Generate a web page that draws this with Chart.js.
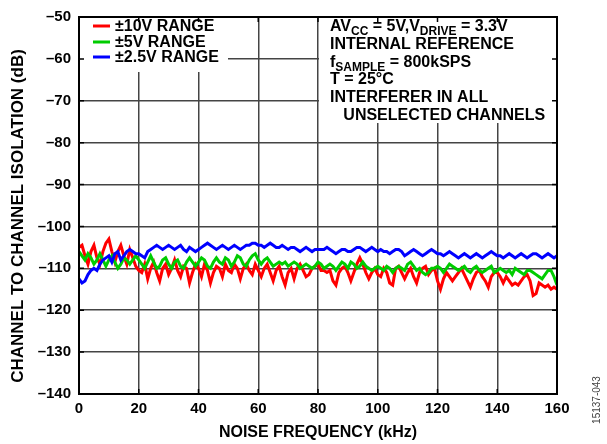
<!DOCTYPE html>
<html>
<head>
<meta charset="UTF-8">
<title>Channel to Channel Isolation</title>
<script src="https://cdn.jsdelivr.net/npm/chart.js@4"></script>
<style>
  html, body { margin: 0; padding: 0; background: #fff; }
  #wrap { width: 607px; height: 444px; position: relative; }
</style>
</head>
<body>
<div id="wrap"><canvas id="chart"></canvas></div>
<script>
// noise frequency in kHz, one sample per kHz from 0 to 160
const freqStart = 0;
const freqStep = 1;

const xTicks = [0, 20, 40, 60, 80, 100, 120, 140, 160];
const yTicks = [-50, -60, -70, -80, -90, -100, -110, -120, -130, -140];

const seriesNames = ['\u00b110V RANGE', '\u00b15V RANGE', '\u00b12.5V RANGE'];

// ±10V range (dB)
const range10V = [
  -105, -104.5, -107, -109, -106, -104.5, -107.5, -109, -106, -104,
  -103, -106, -108.5, -106, -104.5, -107, -109, -105.5, -107.5, -109.5,
  -110.5, -111, -109, -112.5, -110, -108.5, -111, -113, -110, -109,
  -111.5, -110, -108, -110.5, -112, -109.5, -110, -113.5, -111, -109,
  -110, -112, -109, -110.5, -113.5, -111, -109.5, -110, -112, -109,
  -110.5, -111, -109, -110, -112.5, -110, -109, -110.5, -111.5, -109,
  -110.5, -112, -110, -109, -111, -113, -110.5, -109.5, -112, -114,
  -111, -110, -112.5, -110, -109, -110.5, -112, -111.5, -110, -109.5,
  -109, -110.5, -110.5, -111, -110.5, -113, -114, -111, -110, -109.5,
  -111, -113, -111, -109, -107.5, -109, -111, -112.5, -111, -110,
  -111.5, -112, -110, -111, -113.5, -114, -110, -109.5, -111, -112.5,
  -111, -110, -112, -113.5, -111, -110, -109.5, -111.5, -110.5, -110,
  -113, -115, -112.5, -111, -112, -113, -112, -111, -110, -111.5,
  -113, -114.5, -112.5, -111, -110.5, -112, -113, -114.5, -112, -111,
  -111, -112, -113.5, -112, -113, -114, -113.5, -114, -113, -112,
  -111.5, -113, -116.5, -116, -113.5, -114, -114.5, -114, -115, -114.5,
  -115
];

// ±5V range (dB)
const range5V = [
  -106, -107, -108, -106.5, -107.5, -109, -108, -106.5, -108, -109.5,
  -108, -107, -108.5, -110, -109, -107.5, -108, -109, -108, -107,
  -108, -109, -110, -108.5, -107, -108.5, -110, -109.5, -108, -107.5,
  -109, -110, -108.5, -108, -109.5, -110, -108.5, -107.5, -108.5, -109.5,
  -108.5, -107.5, -108, -109.5, -110, -108.5, -107.5, -108.5, -109, -107.5,
  -108, -109.5, -108.5, -107, -107.5, -109, -109.5, -108, -107, -106.5,
  -108, -109, -108, -107.5, -108.5, -109.5, -109, -108.5, -109, -108.5,
  -109.5, -109, -108.5, -109, -110, -109.5, -109, -109.5, -110, -109.5,
  -108.5, -109, -110, -109.5, -109, -109.5, -110.5, -109.5, -108.5, -109,
  -110, -108.5, -109, -110, -109.5, -108.5, -109.5, -110, -110.5, -110,
  -109.5, -110, -110.5, -109.5, -110, -111, -110, -109.5, -110, -110.5,
  -109, -108.5, -109.5, -110.5, -110, -111, -111.5, -111, -110, -110,
  -109.5, -110, -111, -110, -109, -109.5, -110, -110.5, -110, -109.5,
  -110.5, -111, -110, -109.5, -110.5, -111, -110.5, -110, -109.5, -111,
  -110.5, -110, -110.5, -111, -110.5, -111.5, -110, -110.5, -111, -111.5,
  -110.5, -110.5, -111, -111.5, -112, -112.5, -111.5, -110.5, -110.5, -112,
  -114
];

// ±2.5V range (dB)
const range2_5V = [
  -112.5, -113.5, -113, -111.5, -110.5, -110, -110.5, -109, -108, -107.5,
  -107, -108.5, -106.5, -106, -108, -107, -106, -105.5, -106, -106.5,
  -106.5, -107, -107.5, -106, -105.5, -105, -104.5, -105, -105.5, -105,
  -104.5, -105, -105.5, -105, -104.5, -105.5, -106, -105, -105.5, -106,
  -105.5, -105, -104.5, -104, -104.5, -105, -105.5, -105, -104.5, -105,
  -105.5, -105, -104.5, -105, -105.5, -105, -104.5, -104.5, -104, -104,
  -104.5, -104.5, -105, -104.5, -104, -104.5, -105, -105, -104.5, -105,
  -105.5, -105, -105, -105.5, -106, -105.5, -105, -105.5, -106, -105.5,
  -105.5, -105.5, -105.5, -105, -105.5, -106, -106.5, -106, -105.5, -105.5,
  -106, -106, -105.5, -105, -105, -105.5, -106, -105.5, -105, -105.5,
  -106, -105.5, -106, -106, -106.5, -106, -105.5, -105.5, -106, -107,
  -106.5, -106, -105.5, -106, -106.5, -107, -106.5, -106, -105.5, -106,
  -106.5, -106.5, -107, -106.5, -106, -106.5, -107, -107.5, -107, -106.5,
  -107, -107.5, -107, -106.5, -107, -107.5, -107, -106.5, -106, -106.5,
  -107, -107, -107.5, -107, -106.5, -107, -107.5, -107, -106.5, -107,
  -107.5, -107, -106.5, -106.5, -107, -107.5, -107, -106.5, -107, -107.5,
  -107
];

const noteLines = [
  [['AV', false], ['CC', true], [' = 5V,V', false], ['DRIVE', true], [' = 3.3V', false]],
  [['INTERNAL REFERENCE', false]],
  [['f', false], ['SAMPLE', true], [' = 800kSPS', false]],
  [['T = 25\u00b0C', false]],
  [['INTERFERER IN ALL', false]],
  [['   UNSELECTED CHANNELS', false]]
];

const toPoints = arr => arr.map((v, i) => ({ x: freqStart + i * freqStep, y: v }));

const FONT = '"Liberation Sans", Arial, sans-serif';

function drawParts(ctx, parts, x, y) {
  let cx = x;
  parts.forEach(([txt, sub]) => {
    ctx.font = sub ? 'bold 12px ' + FONT : 'bold 16px ' + FONT;
    ctx.fillText(txt, cx, sub ? y + 4 : y);
    cx += ctx.measureText(txt).width;
  });
}

const decor = {
  id: 'decor',
  beforeDatasetsDraw(chart) {
    const { ctx, chartArea: a, scales } = chart;
    ctx.save();
    ctx.fillStyle = '#fff';
    // legend box and note box hide the grid
    ctx.fillRect(a.left, a.top, 149, 55);
    const noteLeft = scales.x.getPixelForValue(80) + 1;
    ctx.fillRect(noteLeft, a.top, a.right - noteLeft, 106);
    // small inward ticks on the frame
    ctx.strokeStyle = '#000';
    ctx.lineWidth = 1.5;
    ctx.beginPath();
    xTicks.forEach(t => {
      const px = scales.x.getPixelForValue(t);
      ctx.moveTo(px, a.top); ctx.lineTo(px, a.top + 5);
      ctx.moveTo(px, a.bottom); ctx.lineTo(px, a.bottom - 5);
    });
    yTicks.forEach(t => {
      const py = scales.y.getPixelForValue(t);
      ctx.moveTo(a.left, py); ctx.lineTo(a.left + 5, py);
      ctx.moveTo(a.right, py); ctx.lineTo(a.right - 5, py);
    });
    ctx.stroke();
    ctx.restore();
  },
  afterDraw(chart) {
    const { ctx, chartArea: a } = chart;
    ctx.save();
    // frame
    ctx.strokeStyle = '#000';
    ctx.lineWidth = 2;
    ctx.strokeRect(a.left, a.top, a.right - a.left, a.bottom - a.top);

    // legend
    ctx.textBaseline = 'middle';
    ctx.textAlign = 'left';
    ctx.font = 'bold 16px ' + FONT;
    const legendYs = [26, 42, 57];
    chart.data.datasets.forEach((ds, i) => {
      const y = legendYs[i];
      ctx.strokeStyle = ds.borderColor;
      ctx.lineWidth = 3;
      ctx.beginPath();
      ctx.moveTo(a.left + 14, y);
      ctx.lineTo(a.left + 31, y);
      ctx.stroke();
      ctx.fillStyle = '#000';
      ctx.fillText(ds.label, a.left + 36, y + 1);
    });

    // conditions note
    ctx.fillStyle = '#000';
    ctx.textBaseline = 'alphabetic';
    noteLines.forEach((parts, i) => {
      drawParts(ctx, parts, 330, 31 + i * 17.8);
    });

    // axis titles
    ctx.textAlign = 'center';
    ctx.textBaseline = 'middle';
    ctx.font = 'bold 16px ' + FONT;
    ctx.fillText('NOISE FREQUENCY (kHz)', (a.left + a.right) / 2, 433);
    ctx.save();
    ctx.translate(18, 216);
    ctx.rotate(-Math.PI / 2);
    ctx.font = 'bold 17px ' + FONT;
    ctx.fillText('CHANNEL TO CHANNEL ISOLATION (dB)', 0, 0);
    ctx.restore();

    // figure code
    ctx.save();
    ctx.translate(597, 400);
    ctx.rotate(-Math.PI / 2);
    ctx.font = '10px ' + FONT;
    ctx.fillStyle = '#444';
    ctx.fillText('15137-043', 0, 0);
    ctx.restore();
    ctx.restore();
  }
};

new Chart(document.getElementById('chart'), {
  type: 'line',
  data: {
    datasets: [
      { label: seriesNames[0], data: toPoints(range10V), borderColor: '#ff0000', order: 3 },
      { label: seriesNames[1], data: toPoints(range5V), borderColor: '#00cc00', order: 2 },
      { label: seriesNames[2], data: toPoints(range2_5V), borderColor: '#0000ff', order: 1 }
    ]
  },
  options: {
    responsive: true,
    maintainAspectRatio: false,
    animation: false,
    layout: { padding: { left: 0, top: 11, right: 50, bottom: 0 } },
    elements: {
      line: { borderWidth: 3, tension: 0 },
      point: { radius: 0 }
    },
    plugins: {
      legend: { display: false },
      tooltip: { enabled: false }
    },
    scales: {
      x: {
        type: 'linear',
        min: 0,
        max: 160,
        afterFit: s => { s.height = 50; },
        afterBuildTicks: s => { s.ticks = xTicks.map(v => ({ value: v })); },
        ticks: {
          color: '#000',
          font: { family: FONT, size: 15, weight: 'bold' },
          padding: 6,
          maxRotation: 0
        },
        grid: { color: '#444', lineWidth: 1.5, drawTicks: false },
        border: { color: '#000', width: 2 }
      },
      y: {
        min: -140,
        max: -50,
        afterFit: s => { s.width = 79; },
        afterBuildTicks: s => { s.ticks = yTicks.map(v => ({ value: v })); },
        ticks: {
          color: '#000',
          font: { family: FONT, size: 15, weight: 'bold' },
          padding: 8,
          callback: v => v < 0 ? '\u2013' + Math.abs(v) : v
        },
        grid: { color: '#444', lineWidth: 1.5, drawTicks: false },
        border: { color: '#000', width: 2 }
      }
    }
  },
  plugins: [decor]
});
</script>
</body>
</html>
